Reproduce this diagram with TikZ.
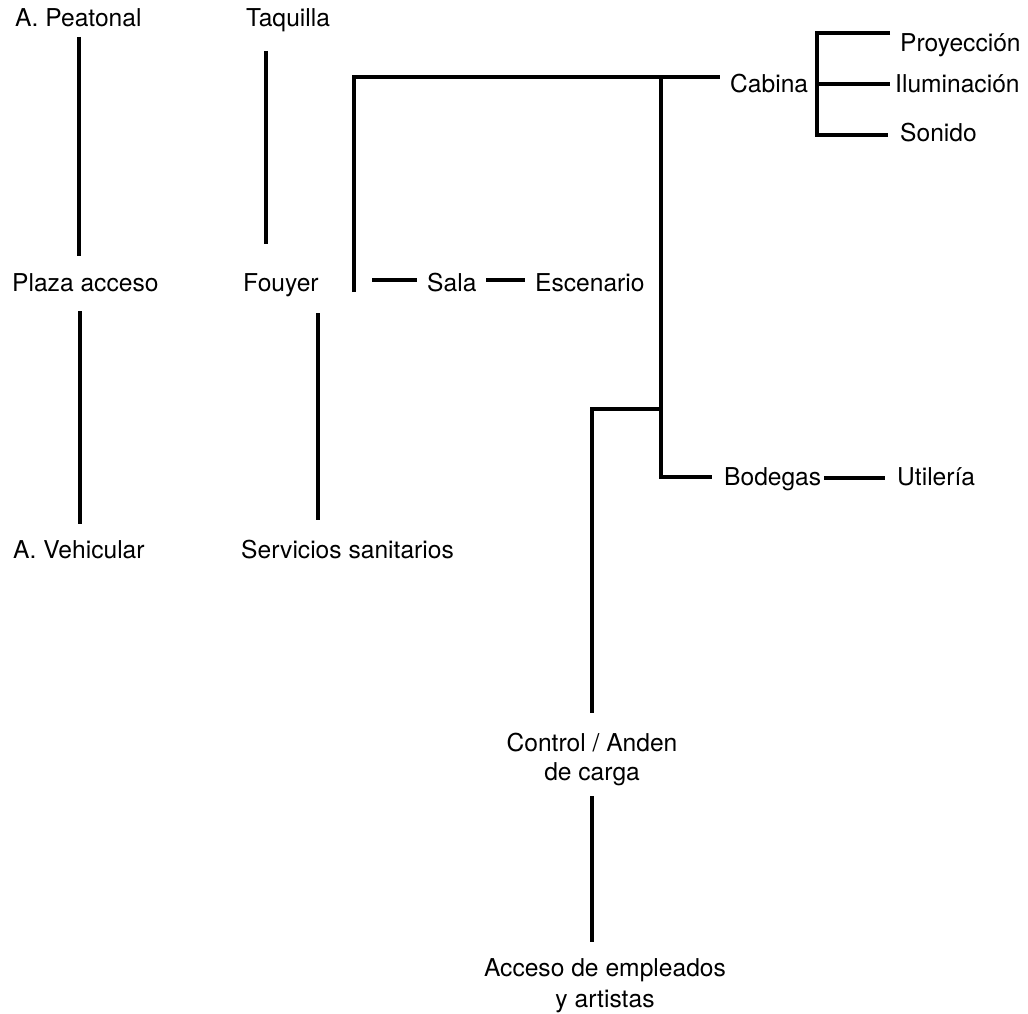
\documentclass[tikz,border=0pt]{standalone}
\usepackage{fontspec}
\setmainfont{TeX Gyre Heros}
\begin{document}
\begin{tikzpicture}[x=1pt,y=-1pt,
  lbl/.style={inner sep=0pt,anchor=base west,font=\fontsize{24.6}{29}\selectfont},
  lblc/.style={inner sep=0pt,anchor=north,align=center,font=\fontsize{24.6}{29}\selectfont},
  conn/.style={line width=3.6pt,line cap=butt,line join=miter}]
\useasboundingbox[fill=white] (0,0) rectangle (1028,1014);
% labels
\node[lbl] (pea) at (15,27) {A. Peatonal};
\node[lbl] (taq) at (246,27) {Taquilla};
\node[lbl] (pla) at (12,291) {Plaza acceso};
\node[lbl] (fou) at (243,291) {Fouyer};
\node[lbl] (veh) at (13,558) {A. Vehicular};
\node[lbl] (ser) at (241,558) {Servicios sanitarios};
\node[lbl] (sal) at (427,291) {Sala};
\node[lbl] (esc) at (535,291) {Escenario};
\node[lbl] (cab) at (730,93) {Cabina};
\node[lbl] (pro) at (900,52) {Proyección};
\node[lbl] (ilu) at (895,93) {Iluminación};
\node[lbl] (son) at (900,142) {Sonido};
\node[lbl] (bod) at (724,485) {Bodegas};
\node[lbl] (uti) at (897,485) {Utilería};
\node[lblc] (con) at (592,733) {Control / Anden\\de carga};
\node[lblc,font=\fontsize{24.6}{31}\selectfont] (acc) at (605,958) {Acceso de empleados\\y artistas};
% connector end points
\coordinate (a1) at (79,37);   \coordinate (a2) at (79,256);
\coordinate (b1) at (80,311);  \coordinate (b2) at (80,524);
\coordinate (c1) at (266,51);  \coordinate (c2) at (266,244);
\coordinate (d1) at (318,313); \coordinate (d2) at (318,520);
\coordinate (e1) at (354,292); \coordinate (e2) at (354,77); \coordinate (e3) at (720,77);
\coordinate (f1) at (661,77);  \coordinate (f2) at (661,477); \coordinate (f3) at (712,477);
\coordinate (g1) at (661,409); \coordinate (g2) at (592,409); \coordinate (g3) at (592,713);
\coordinate (h1) at (592,796); \coordinate (h2) at (592,942);
\coordinate (s1) at (372,280); \coordinate (s2) at (417,280);
\coordinate (t1) at (486,280); \coordinate (t2) at (525,280);
\coordinate (k1) at (890,33);  \coordinate (k2) at (817,33); \coordinate (k3) at (817,135); \coordinate (k4) at (888,135);
\coordinate (k5) at (817,84);  \coordinate (k6) at (890,84);
\coordinate (u1) at (824,478); \coordinate (u2) at (885,478);
% connectors
\draw[conn] (a1) -- (a2);
\draw[conn] (b1) -- (b2);
\draw[conn] (c1) -- (c2);
\draw[conn] (d1) -- (d2);
\draw[conn] (e1) -- (e2) -- (e3);
\draw[conn] (f1) -- (f2) -- (f3);
\draw[conn] (g1) -- (g2) -- (g3);
\draw[conn] (h1) -- (h2);
\draw[conn] (s1) -- (s2);
\draw[conn] (t1) -- (t2);
\draw[conn] (k1) -- (k2) -- (k3) -- (k4);
\draw[conn] (k5) -- (k6);
\draw[conn] (u1) -- (u2);
\end{tikzpicture}
\end{document}
